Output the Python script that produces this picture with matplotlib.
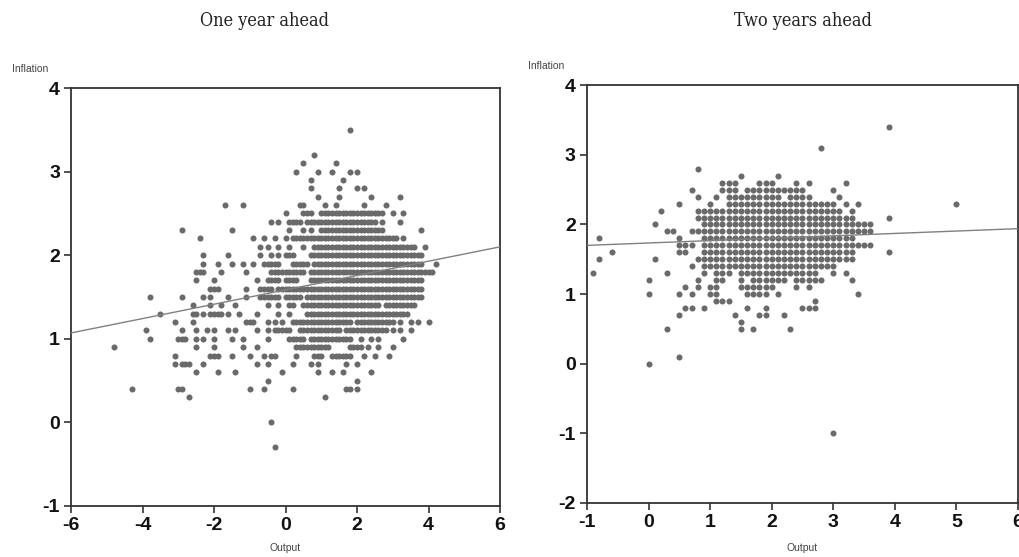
import numpy as np
import matplotlib.pyplot as plt

plt.rcParams["axes.unicode_minus"] = False

# Each row: inflation value, then the output values seen at that level.
# "a:b" means an unbroken run of points on the 0.1 grid from a to b.
rows_one_year = [
    (3.5, "1.8"),
    (3.2, "0.8"),
    (3.1, "0.5 1.4"),
    (3.0, "0.3 0.9 1.3 1.8 2.0"),
    (2.9, "0.7 1.6"),
    (2.8, "0.7 1.5 2.0 2.2"),
    (2.7, "0.9 1.5 2.4 3.2"),
    (2.6, "-1.7 -1.2 0.4 0.5 1.1 1.4 2.2 2.8"),
    (2.5, "0.0 0.5:0.7 1.0:2.7 3.0 3.3"),
    (2.4, "-0.4 -0.2 0.1:0.4 0.6:2.5 2.7 3.2"),
    (2.3, "-2.9 -1.5 0.1 0.5 0.7 1.0:2.7 3.8"),
    (2.2, "-2.4 -0.9 -0.6 -0.3 0.0 0.2:0.6 0.7:3.1 3.3"),
    (2.1, "-0.7 -0.5 -0.2 0.1 0.5 0.8:3.6 3.9"),
    (2.0, "-2.3 -1.6 -0.7 -0.4 -0.2 0.0:0.2 0.7:3.8"),
    (1.9, "-2.3 -1.9 -1.5 -1.2 -0.9 -0.6:-0.2 0.2:0.6 0.8:3.8 4.2"),
    (1.8, "-2.5 -2.4 -2.3 -1.8 -1.1 -0.4:0.5 0.7:4.1"),
    (1.7, "-2.5 -2.0 -0.8 -0.5 -0.4:-0.2 0.0:0.3 0.7:3.8"),
    (1.6, "-2.1 -2.0 -1.9 -1.1 -0.7:-0.4 -0.2:0.3 0.4:3.8"),
    (1.5, "-3.8 -2.9 -2.3 -2.1 -1.6 -1.1 -0.7:-0.2 0.0:0.4 0.6:3.8"),
    (1.4, "-2.6 -2.1 -1.8 -1.4 -0.5 -0.2 0.1 0.2 0.5:2.6 2.8:3.6"),
    (1.3, "-3.5 -2.6 -2.5 -2.3 -2.1 -2.0 -1.9 -1.8 -1.6 -1.3 -0.8 -0.2 0.1 0.6:3.4"),
    (1.2, "-3.1 -2.6 -1.1 -1.0 -0.9 -0.5 -0.3 -0.1 0.2:1.8 2.0:3.0 3.2 3.5 3.7 4.0"),
    (1.1, "-3.9 -2.9 -2.5 -2.2 -2.0 -1.6 -1.4 -0.8 -0.5 -0.3:0.1 0.4:1.5 1.7:2.8 3.0 3.2 3.5"),
    (1.0, "-3.8 -3.0 -2.9 -2.8 -2.5 -2.3 -2.0 -1.5 -1.2 -0.5 0.1:0.5 0.7:1.8 2.1 2.4 2.6 3.3"),
    (0.9, "-4.8 -2.5 -2.0 -1.2 -0.8 0.3:1.2 1.8:2.1 2.3 2.6 3.0"),
    (0.8, "-3.1 -2.1 -2.0 -1.9 -1.5 -1.0 -0.6 -0.4 -0.3 0.3 0.8:1.0 1.3:1.8 2.2 2.5 2.9"),
    (0.7, "-3.1 -2.9 -2.8 -2.7 -2.3 -0.8 -0.5 0.2 0.7 0.9 1.7 2.0"),
    (0.6, "-2.5 -1.9 -1.4 -0.1 0.9 1.3 1.6 2.4"),
    (0.5, "-0.5 2.0"),
    (0.4, "-4.3 -3.0 -2.9 -1.0 -0.6 0.2 1.7 1.8 2.0"),
    (0.3, "-2.7 1.1"),
    (0.0, "-0.4"),
    (-0.3, "-0.3"),
]

rows_two_years = [
    (3.4, "3.9"),
    (3.1, "2.8"),
    (2.8, "0.8"),
    (2.7, "1.5 2.1"),
    (2.6, "1.2:1.4 1.8:2.0 2.4 2.6 3.2"),
    (2.5, "0.7 1.2:1.4 1.6:2.5 3.0"),
    (2.4, "0.8 1.1 1.3:2.1 2.3:2.6 3.1"),
    (2.3, "0.5 1.0 1.3 1.4 1.5:3.0 3.2 3.4 5.0"),
    (2.2, "0.2 0.8:3.1 3.3"),
    (2.1, "0.8:3.3 3.9"),
    (2.0, "0.1 0.9:3.6"),
    (1.9, "0.3 0.4 0.7:3.6"),
    (1.8, "-0.8 0.5 0.9:3.3"),
    (1.7, "0.5:0.7 0.9:3.3 3.4:3.6"),
    (1.6, "-0.6 0.5 0.6 0.9:3.3 3.9"),
    (1.5, "-0.8 0.1 0.8:3.3"),
    (1.4, "0.7 0.9:3.0"),
    (1.3, "-0.9 0.3 0.9 1.1:1.3 1.5:2.7 3.0 3.2"),
    (1.2, "0.0 0.8 1.1 1.2 1.5 1.7 1.8:2.2 2.4:2.8 3.3"),
    (1.1, "0.6 0.8 1.0 1.1 1.5:2.0 2.4 2.6"),
    (1.0, "0.0 0.5 0.7 1.0 1.1 1.6:1.9 2.1 3.4"),
    (0.9, "1.1 1.2 1.3 2.7"),
    (0.8, "0.6 0.7 0.9 1.6 1.9 2.5:2.7"),
    (0.7, "0.5 1.4 1.8 1.9 2.2"),
    (0.6, "1.5"),
    (0.5, "0.3 1.5 1.7 2.3"),
    (0.1, "0.5"),
    (0.0, "0.0"),
    (-1.0, "3.0"),
]

# regression lines: (intercept, slope)
fit_one_year = (1.585, 0.0858)
fit_two_years = (1.734, 0.0343)

titles = ["One year ahead", "Two years ahead"]
xlims = [(-6, 6), (-1, 6)]
ylims = [(-1, 4), (-2, 4)]
xticks = [np.arange(-6, 7, 2), np.arange(-1, 7, 1)]
yticks = [np.arange(-1, 5, 1), np.arange(-2, 5, 1)]


def expand(rows):
    xs, ys = [], []
    for yv, spec in rows:
        for tok in spec.split():
            if ":" in tok:
                a, b = map(float, tok.split(":"))
                n = int(round((b - a) * 10)) + 1
                vals = np.round(np.linspace(a, b, n), 1)
            else:
                vals = [float(tok)]
            xs.extend(vals)
            ys.extend([yv] * len(vals))
    return np.array(xs), np.array(ys)


DOT = "#6a6a6a"
narrow = ["Liberation Sans Narrow", "Liberation Sans", "DejaVu Sans"]

fig = plt.figure(figsize=(10.19, 5.57), dpi=100)
boxes = [[0.0697, 0.0916, 0.421, 0.7504], [0.576, 0.097, 0.423, 0.750]]
title_x = [0.26, 0.788]
data = [expand(rows_one_year), expand(rows_two_years)]
fits = [fit_one_year, fit_two_years]

for i in range(2):
    ax = fig.add_axes(boxes[i])
    x, y = data[i]
    ax.scatter(x, y, s=19, marker="o", color=DOT, linewidths=0, zorder=2)
    a, b = fits[i]
    lx = np.array(xlims[i], dtype=float)
    ax.plot(lx, a + b * lx, color="#808080", lw=1.0, zorder=3)
    ax.set_xlim(*xlims[i])
    ax.set_ylim(*ylims[i])
    ax.set_xticks(xticks[i])
    ax.set_yticks(yticks[i])
    for s in ax.spines.values():
        s.set_color("#333333")
        s.set_linewidth(1.3)
    ax.tick_params(direction="out", length=5, width=1.2, color="#333333",
                   top=False, right=False, pad=3)
    for lab in ax.get_xticklabels() + ax.get_yticklabels():
        lab.set_family(narrow)
        lab.set_fontweight("bold")
        lab.set_fontsize(14)
        lab.set_color("#111111")
    # small axis captions
    x0 = boxes[i][0]
    top = boxes[i][1] + boxes[i][3]
    fig.text(x0 - 0.058, top + 0.035, "Inflation", fontsize=7.5,
             family=narrow, color="#444444", va="center", ha="left")
    fig.text(x0 + boxes[i][2] / 2, 0.016, "Output", fontsize=7.5,
             family=narrow, color="#444444", va="center", ha="center")
    fig.text(title_x[i], 0.962, titles[i], fontsize=13, family="DejaVu Serif",
             fontstretch="condensed", color="#222222", ha="center", va="center")

fig.savefig("out.png", dpi=100)
